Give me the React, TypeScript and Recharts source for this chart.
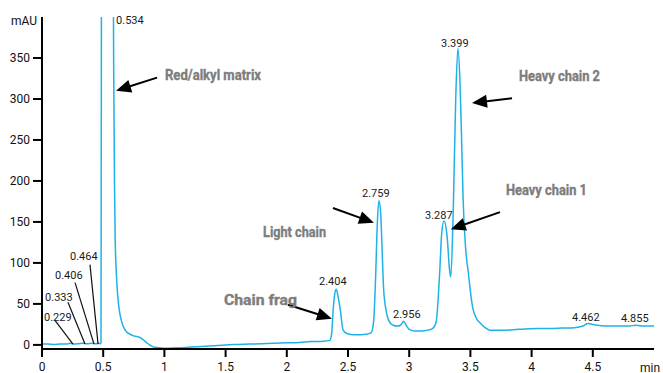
import React from 'react';
import { LineChart, Line, XAxis, YAxis, ReferenceLine, ReferenceDot } from 'recharts';

// Chromatogram trace (retention time in min, absorbance in mAU)
const times = [
  0, 0.05, 0.1, 0.15, 0.2, 0.229, 0.26, 0.3, 0.333, 0.37, 0.406, 0.44, 0.464, 0.476,
  0.482, 0.486, 0.534, 0.578, 0.586, 0.592, 0.598, 0.605, 0.612, 0.625, 0.64, 0.66, 0.69,
  0.72, 0.75, 0.78, 0.8, 0.83, 0.86, 0.89, 0.92, 1.0, 1.1, 1.2, 1.3, 1.4, 1.5, 1.6, 1.7,
  1.8, 1.9, 2.0, 2.1, 2.2, 2.3, 2.35, 2.365, 2.38, 2.395, 2.404, 2.415, 2.437, 2.46, 2.49,
  2.55, 2.6, 2.65, 2.69, 2.71, 2.725, 2.74, 2.752, 2.765, 2.775, 2.79, 2.81, 2.843, 2.87,
  2.9, 2.93, 2.955, 2.975, 3.0, 3.05, 3.1, 3.15, 3.19, 3.22, 3.25, 3.265, 3.284, 3.31,
  3.33, 3.34, 3.36, 3.38, 3.398, 3.415, 3.43, 3.44, 3.46, 3.483, 3.518, 3.55, 3.578, 3.62,
  3.66, 3.75, 3.85, 3.95, 4.05, 4.15, 4.25, 4.35, 4.42, 4.462, 4.5, 4.6, 4.7, 4.8, 4.855,
  4.92, 5.0,
];
const absorbance = [
  1, 1, 0.5, 1, 1, 2, 1, 1.5, 2, 1.5, 2, 1.5, 2, 1.5,
  3, 500, 2500, 600, 330, 200, 128, 95, 74, 50, 35, 24, 16,
  13, 11, 10, 9, 6, 2, -1, -3, -4, -3.5, -3, -2, -1, 0, 0.5, 1,
  1.5, 2, 2.5, 3, 4, 4.5, 5.5, 12, 45, 65, 68, 62, 43, 18, 14,
  12.5, 12.5, 13, 15, 30, 80, 150, 176, 165, 132, 71, 43, 27, 24,
  23, 24, 29, 24, 19, 17, 17, 18, 20, 28, 91, 135, 151, 132,
  91, 83, 165, 300, 362, 320, 240, 180, 120, 88, 46, 32, 27, 21,
  18, 18, 18.5, 19.5, 20, 20, 20.5, 21, 23, 26, 25, 23, 23, 23, 24,
  23, 23,
];

const xTicks = [0, 0.5, 1, 1.5, 2, 2.5, 3, 3.5, 4, 4.5];
const yTicks = [0, 50, 100, 150, 200, 250, 300, 350];

// peak retention-time labels: [text, t, mAU]
const peakLabels: [string, number, number][] = [
  ['0.534', 0.605, 396],
  ['3.399', 3.26, 368],
  ['2.759', 2.614, 185],
  ['3.287', 3.129, 158],
  ['2.404', 2.263, 77],
  ['2.956', 2.868, 37],
  ['4.462', 4.33, 33],
  ['4.855', 4.73, 32],
  ['0.229', 0.016, 34],
  ['0.333', 0.025, 58],
  ['0.406', 0.106, 85],
  ['0.464', 0.229, 108],
];

// leader lines from the small labels down to the baseline: [t1, v1, t2, v2]
const leaders: [number, number, number, number][] = [
  [0.106, 30, 0.253, 1],
  [0.212, 52, 0.351, 1],
  [0.27, 76, 0.425, 1],
  [0.392, 98, 0.458, 1],
];

// component names: [text, t, mAU]
const names: [string, number, number][] = [
  ['Red/alkyl matrix', 1.005, 329],
  ['Light chain', 1.806, 138],
  ['Chain frag', 1.487, 55],
  ['Heavy chain 2', 3.897, 328],
  ['Heavy chain 1', 3.791, 189],
];
const nameWidths = [96, 63, 73, 81, 81];

// arrows: tail -> tip [t1, v1, t2, v2]
const arrows: [number, number, number, number][] = [
  [0.94, 326, 0.605, 310],
  [2.377, 167, 2.712, 149],
  [2.01, 49, 2.369, 32],
  [3.84, 301, 3.513, 295],
  [3.742, 162, 3.339, 141],
];

const data = times.map((t, i) => ({ t, v: absorbance[i] }));

const FONT = 'Roboto, Arial, sans-serif';

const Arrow = (props: any) => {
  const { x1, y1, x2, y2 } = props;
  const dx = x2 - x1;
  const dy = y2 - y1;
  const len = Math.sqrt(dx * dx + dy * dy) || 1;
  const ux = dx / len;
  const uy = dy / len;
  const hl = 15;
  const hw = 6.5;
  const bx = x2 - ux * hl;
  const by = y2 - uy * hl;
  const pts = `${x2},${y2} ${bx - uy * hw},${by + ux * hw} ${bx + uy * hw},${by - ux * hw}`;
  return (
    <g>
      <line x1={x1} y1={y1} x2={bx + ux * 2} y2={by + uy * 2} stroke="#000" strokeWidth={2} />
      <polygon points={pts} fill="#000" />
    </g>
  );
};

const Leader = (props: any) => (
  <line x1={props.x1} y1={props.y1} x2={props.x2} y2={props.y2} stroke="#111" strokeWidth={1.2} />
);

const textShape = (text: string, style: any) => (props: any) => (
  <text
    x={props.cx}
    y={props.cy}
    dominantBaseline="central"
    {...style}
  >
    {text}
  </text>
);

export default function App() {
  return (
    <div style={{ position: 'absolute', left: 0, top: 0, width: 663, height: 373, background: '#fff' }}>
      <LineChart width={663} height={373} data={data} margin={{ top: 17, right: 9, bottom: 0, left: 0 }}>
        <XAxis
          dataKey="t"
          type="number"
          domain={[0, 5]}
          ticks={xTicks}
          interval={0}
          allowDataOverflow
          height={24}
          tickSize={8}
          tickMargin={5}
          axisLine={{ stroke: '#000', strokeWidth: 2 }}
          tickLine={{ stroke: '#000', strokeWidth: 2 }}
          tick={{ fontSize: 12, fill: '#111', fontFamily: FONT }}
        />
        <YAxis
          type="number"
          domain={[-5, 400]}
          ticks={yTicks}
          interval={0}
          allowDataOverflow
          width={42}
          tickSize={9}
          tickMargin={3}
          axisLine={{ stroke: '#000', strokeWidth: 2 }}
          tickLine={{ stroke: '#000', strokeWidth: 2 }}
          tick={{ fontSize: 12, fill: '#111', fontFamily: FONT }}
        />
        <Line
          type="monotone"
          dataKey="v"
          stroke="#1fb2e8"
          strokeWidth={1.5}
          dot={false}
          isAnimationActive={false}
        />
        {leaders.map((l, i) => (
          <ReferenceLine
            key={`ld${i}`}
            segment={[{ x: l[0], y: l[1] }, { x: l[2], y: l[3] }]}
            shape={Leader}
          />
        ))}
        {arrows.map((a, i) => (
          <ReferenceLine
            key={`ar${i}`}
            segment={[{ x: a[0], y: a[1] }, { x: a[2], y: a[3] }]}
            shape={Arrow}
          />
        ))}
        {peakLabels.map(([text, t, v]) => (
          <ReferenceDot
            key={`pk${text}`}
            x={t}
            y={v}
            r={0}
            shape={textShape(text, { fontSize: 11, fill: '#1a1a1a', fontFamily: FONT })}
          />
        ))}
        {names.map(([text, t, v], i) => (
          <ReferenceDot
            key={`nm${text}`}
            x={t}
            y={v}
            r={0}
            shape={textShape(text, {
              fontSize: 14,
              fontWeight: 700,
              fill: '#7d7d7d',
              stroke: '#7d7d7d',
              strokeWidth: 0.35,
              fontFamily: FONT,
              textLength: nameWidths[i],
              lengthAdjust: 'spacingAndGlyphs',
            })}
          />
        ))}
        <ReferenceDot
          x={0}
          y={400}
          r={0}
          shape={textShape('mAU', { fontSize: 12, fill: '#111', fontFamily: FONT, textAnchor: 'end', dx: -5, dy: 4 })}
        />
        <ReferenceDot
          x={5}
          y={-5}
          r={0}
          shape={textShape('min', { fontSize: 12, fill: '#111', fontFamily: FONT, textAnchor: 'start', dx: -14, dy: 19 })}
        />
      </LineChart>
    </div>
  );
}
